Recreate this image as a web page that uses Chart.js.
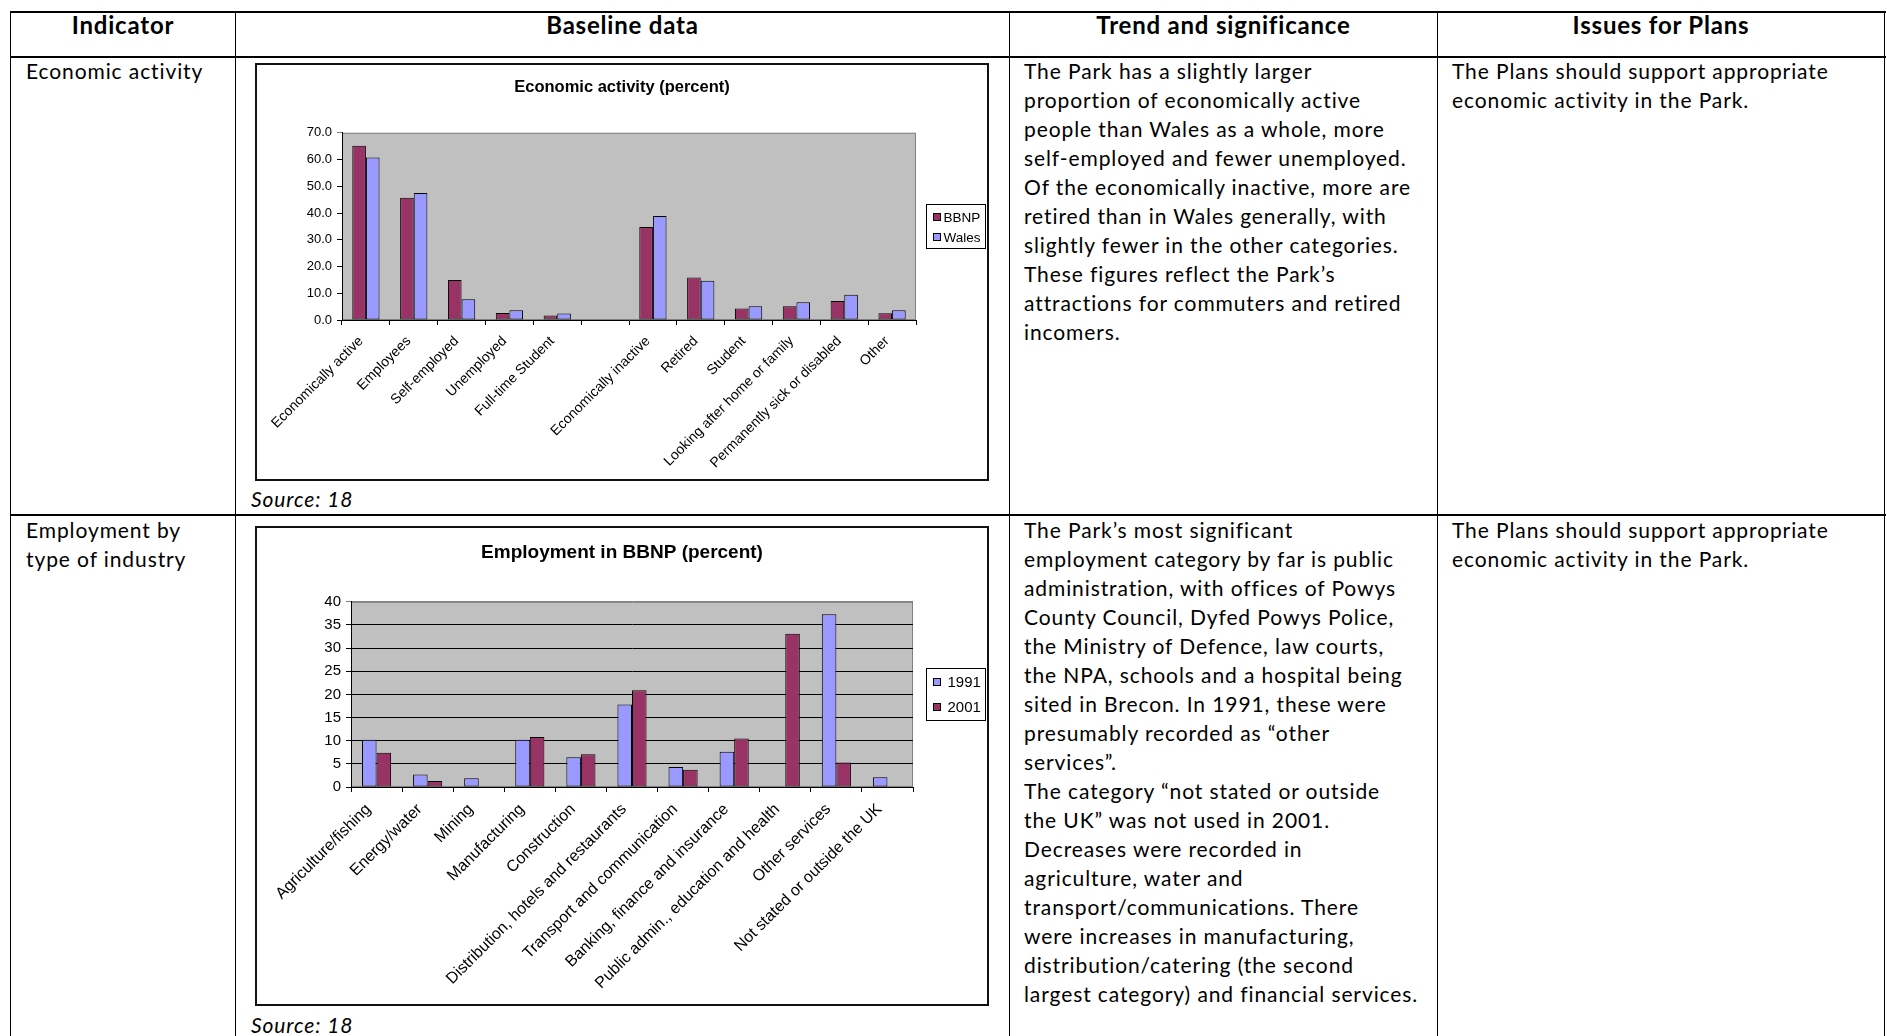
<!DOCTYPE html>
<html>
<head>
<meta charset="utf-8">
<script src="https://cdn.jsdelivr.net/npm/chart.js@4.4.1/dist/chart.umd.min.js"></script>
<style>
html, body { margin: 0; padding: 0; background: #fff; }
body { width: 1887px; height: 1036px; position: relative; overflow: hidden; font-family: Lato, "Open Sans", sans-serif; color: #000; }
.hl { position: absolute; background: #000; height: 2px; }
.vl { position: absolute; background: #000; width: 1px; }
.hd { position: absolute; top: 10px; font-weight: bold; font-size: 24px; letter-spacing: 0.8px; line-height: 29px; text-align: center; white-space: nowrap; }
.txt { position: absolute; font-size: 21px; letter-spacing: 0.9px; line-height: 29px; white-space: nowrap; }
.src { position: absolute; font-size: 21px; letter-spacing: 0.9px; line-height: 29px; font-style: italic; white-space: nowrap; }
.box { position: absolute; border: 2px solid #111; background: #fff; }
.box canvas { display: block; }
</style>
</head>
<body>

<!-- table grid -->
<div class="hl" style="left:10px; top:11px; width:1876px;"></div>
<div class="hl" style="left:10px; top:56px; width:1876px;"></div>
<div class="hl" style="left:10px; top:514px; width:1876px;"></div>
<div class="vl" style="left:10px; top:11px; height:1025px;"></div>
<div class="vl" style="left:235px; top:11px; height:1025px;"></div>
<div class="vl" style="left:1009px; top:11px; height:1025px;"></div>
<div class="vl" style="left:1437px; top:11px; height:1025px;"></div>
<div class="vl" style="left:1884px; top:11px; height:1025px;"></div>

<!-- header row -->
<div class="hd" style="left:11px; width:224px;">Indicator</div>
<div class="hd" style="left:236px; width:773px;">Baseline data</div>
<div class="hd" style="left:1010px; width:427px;">Trend and significance</div>
<div class="hd" style="left:1438px; width:446px;">Issues for Plans</div>

<!-- row 1 -->
<div class="txt" style="left:26px; top:56px;">Economic activity</div>
<div class="box" style="left:255px; top:63px;"><canvas id="activityChart" width="730" height="414"></canvas></div>
<div class="src" style="left:251px; top:484px;">Source: 18</div>
<div class="txt" style="left:1024px; top:56px;">The Park has a slightly larger<br>proportion of economically active<br>people than Wales as a whole, more<br>self-employed and fewer unemployed.<br>Of the economically inactive, more are<br>retired than in Wales generally, with<br>slightly fewer in the other categories.<br>These figures reflect the Park’s<br>attractions for commuters and retired<br>incomers.</div>
<div class="txt" style="left:1452px; top:56px;">The Plans should support appropriate<br>economic activity in the Park.</div>

<!-- row 2 -->
<div class="txt" style="left:26px; top:515px;">Employment by<br>type of industry</div>
<div class="box" style="left:255px; top:526px;"><canvas id="industryChart" width="730" height="476"></canvas></div>
<div class="src" style="left:251px; top:1010px;">Source: 18</div>
<div class="txt" style="left:1024px; top:515px;">The Park’s most significant<br>employment category by far is public<br>administration, with offices of Powys<br>County Council, Dyfed Powys Police,<br>the Ministry of Defence, law courts,<br>the NPA, schools and a hospital being<br>sited in Brecon. In 1991, these were<br>presumably recorded as “other<br>services”.<br>The category “not stated or outside<br>the UK” was not used in 2001.<br>Decreases were recorded in<br>agriculture, water and<br>transport/communications. There<br>were increases in manufacturing,<br>distribution/catering (the second<br>largest category) and financial services.</div>
<div class="txt" style="left:1452px; top:515px;">The Plans should support appropriate<br>economic activity in the Park.</div>

<script>
// economic activity, percent
const activityLabels = [
	"Economically active",
	"Employees",
	"Self-employed",
	"Unemployed",
	"Full-time Student",
	"",
	"Economically inactive",
	"Retired",
	"Student",
	"Looking after home or family",
	"Permanently sick or disabled",
	"Other",
];
const bbnpValues = [65.2, 45.7, 15.0, 2.6, 1.7, null, 34.8, 15.9, 4.3, 5.1, 7.1, 2.5];
const walesValues = [60.8, 47.5, 7.8, 3.6, 2.4, null, 38.9, 14.7, 5.1, 6.6, 9.4, 3.6];

// employment in BBNP by industry, percent
const industryLabels = [
	"Agriculture/fishing",
	"Energy/water",
	"Mining",
	"Manufacturing",
	"Construction",
	"Distribution, hotels and restaurants",
	"Transport and communication",
	"Banking, finance and insurance",
	"Public admin., education and health",
	"Other services",
	"Not stated or outside the UK",
];
const values1991 = [10.2, 2.7, 1.9, 10.2, 6.4, 17.8, 4.3, 7.6, null, 37.3, 2.1];
const values2001 = [7.4, 1.3, null, 10.8, 7.1, 20.9, 3.7, 10.5, 33.1, 5.3, null];

const MAROON = "#993366";
const LILAC = "#9999ff";
const FONT = "'Liberation Sans', Arial, sans-serif";

// grey plot area like the old excel charts
const plotBg = {
	id: "plotBg",
	beforeDraw(chart) {
		const { ctx, chartArea: a } = chart;
		ctx.save();
		ctx.fillStyle = "#c0c0c0";
		ctx.fillRect(a.left, a.top, a.width, a.height);
		ctx.strokeStyle = "#808080";
		ctx.lineWidth = 1;
		ctx.strokeRect(a.left + 0.5, a.top + 0.5, a.width - 1, a.height - 1);
		ctx.restore();
	},
};

// boxed legend to the right of the plot, centred on it
const boxLegend = {
	id: "boxLegend",
	afterDraw(chart, args, opts) {
		const { ctx, chartArea: a } = chart;
		const sets = chart.data.datasets;
		ctx.save();
		ctx.font = opts.size + "px " + FONT;
		let w = 0;
		sets.forEach((d) => (w = Math.max(w, ctx.measureText(d.label).width)));
		const bw = Math.round(opts.textX + w + 5);
		const bh = Math.round(opts.rowH * sets.length + 2 * opts.pad);
		const x = Math.round(a.right + opts.gap) + 0.5;
		const y = Math.round((a.top + a.bottom) / 2 - bh / 2) + 0.5;
		ctx.fillStyle = "#fff";
		ctx.fillRect(x, y, bw, bh);
		ctx.strokeStyle = "#000";
		ctx.lineWidth = 1;
		ctx.strokeRect(x, y, bw, bh);
		ctx.textBaseline = "middle";
		sets.forEach((d, i) => {
			const cy = Math.round(y + opts.pad + opts.rowH * (i + 0.5));
			ctx.fillStyle = d.backgroundColor;
			ctx.fillRect(x + 7, cy - 3.5, 7, 7);
			ctx.strokeRect(x + 7, cy - 3.5, 7, 7);
			ctx.fillStyle = "#000";
			ctx.fillText(d.label, x + opts.textX, cy + 1);
		});
		ctx.restore();
	},
};

function makeChart(id, labels, datasets, c) {
	return new Chart(document.getElementById(id), {
		type: "bar",
		data: { labels, datasets },
		options: {
			responsive: false,
			animation: false,
			layout: { padding: { top: c.top, right: 0, left: 0, bottom: 0 } },
			datasets: {
				bar: {
					categoryPercentage: 0.57,
					barPercentage: 1,
					borderColor: "#000",
					borderWidth: 1,
					borderSkipped: false,
				},
			},
			plugins: {
				legend: { display: false },
				tooltip: { enabled: false },
				title: {
					display: true,
					text: c.title,
					color: "#000",
					font: { family: FONT, size: c.titleSize, weight: "bold" },
					padding: { top: 0, bottom: c.titleGap },
				},
				boxLegend: { size: c.legendSize, rowH: c.rowH, pad: c.pad, textX: c.textX, gap: c.gap },
			},
			scales: {
				x: {
					grid: { drawOnChartArea: false, color: "#000", tickLength: 5, offset: true },
					border: { color: "#000" },
					ticks: {
						color: "#000",
						font: { family: FONT, size: c.xSize },
						minRotation: 45,
						maxRotation: 45,
						autoSkip: false,
						padding: 8,
						labelOffset: c.xShift,
					},
					afterFit(s) {
						s.height = c.xHeight;
					},
				},
				y: {
					min: 0,
					max: c.max,
					grid: {
						drawOnChartArea: c.gridLines,
						color: (ctx) => (ctx.tick && ctx.tick.value === c.max ? "#808080" : "#000"),
						tickLength: 5,
					},
					border: { color: "#000" },
					ticks: {
						stepSize: c.step,
						color: "#000",
						font: { family: FONT, size: c.ySize },
						padding: 5,
						callback: c.fmt,
					},
					afterFit(s) {
						s.width = c.yWidth;
					},
				},
				// empty axis on the right keeps room for the legend box
				// while the title stays centred on the whole chart
				yRoom: {
					type: "linear",
					position: "right",
					grid: { display: false },
					border: { display: false },
					ticks: { display: false },
					afterFit(s) {
						s.width = c.right;
					},
				},
			},
		},
		plugins: [plotBg, boxLegend],
	});
}

makeChart(
	"activityChart",
	activityLabels,
	[
		{ label: "BBNP", data: bbnpValues, backgroundColor: MAROON },
		{ label: "Wales", data: walesValues, backgroundColor: LILAC },
	],
	{
		title: "Economic activity (percent)",
		titleSize: 16.5,
		top: 13,
		titleGap: 35,
		right: 71,
		yWidth: 85,
		xHeight: 159,
		max: 70,
		step: 10,
		fmt: (v) => v.toFixed(1),
		gridLines: false,
		ySize: 13,
		xSize: 14,
		xShift: -5,
		legendSize: 13.5,
		rowH: 20,
		pad: 2,
		textX: 17,
		gap: 10,
	}
);

makeChart(
	"industryChart",
	industryLabels,
	[
		{ label: "1991", data: values1991, backgroundColor: LILAC },
		{ label: "2001", data: values2001, backgroundColor: MAROON },
	],
	{
		title: "Employment in BBNP (percent)",
		titleSize: 19,
		top: 13,
		titleGap: 38,
		right: 74,
		yWidth: 94,
		xHeight: 217,
		max: 40,
		step: 5,
		fmt: (v) => v,
		gridLines: true,
		ySize: 15,
		xSize: 16,
		xShift: -8,
		legendSize: 15,
		rowH: 25,
		pad: 1,
		textX: 21,
		gap: 13,
	}
);
</script>
</body>
</html>
